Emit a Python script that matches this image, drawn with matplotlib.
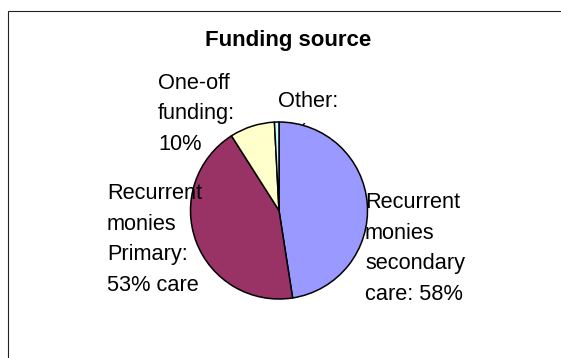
import matplotlib
matplotlib.use("Agg")
import matplotlib.pyplot as plt
from matplotlib.patches import Rectangle

plt.rcParams['font.family'] = ['Liberation Sans', 'DejaVu Sans']

# Funding sources (multiple answers allowed, so shares exceed 100%)
labels = ['Recurrent\nmonies\nsecondary\ncare: 58%',
          'Recurrent\nmonies\nPrimary:\n53% care',
          'One-off\nfunding:\n10%',
          'Other:\n1%']
values = [58, 53, 10, 1]
colors = ['#9999FF', '#993366', '#FFFFCC', '#CCFFFF']

W, H = 561, 358
cx, cy, R = 279, 210.5, 88.5   # pie centre / radius in pixels

fig = plt.figure(figsize=(W / 100, H / 100), dpi=100)
pad = 1.25
ax = fig.add_axes([(cx - pad * R) / W, (H - cy - pad * R) / H,
                   2 * pad * R / W, 2 * pad * R / H])
ax.pie(values, colors=colors, startangle=90, counterclock=False,
       wedgeprops=dict(edgecolor='black', linewidth=1.1))
ax.set_xlim(-pad, pad)
ax.set_ylim(-pad, pad)
ax.axis('off')


def px(x, y):
    # pixel position -> pie data coords
    return (x - cx) / R, (cy - y) / R


# label anchors: left edge and last-line baseline, in pixels
label_pos = [(365, 300), (107, 291), (158, 150), (278, 138)]
label_z = [3, 3, 3, 0.5]   # the "Other" value sits behind the pie
for text, (x, y), z in zip(labels, label_pos, label_z):
    dx, dy = px(x, y)
    ax.text(dx, dy, text, fontsize=15.7, ha='left', va='baseline',
            linespacing=1.6, zorder=z)

fig.text(288 / W, 1 - 46 / H, 'Funding source', fontsize=16, fontweight='bold',
         ha='center', va='baseline')

# chart area border
fig.add_artist(Rectangle((7.5 / W, -0.1), 1.2, (H - 11) / H + 0.1,
                         transform=fig.transFigure, fill=False,
                         edgecolor='#222222', linewidth=0.8))

fig.savefig('out.png', dpi=100)
